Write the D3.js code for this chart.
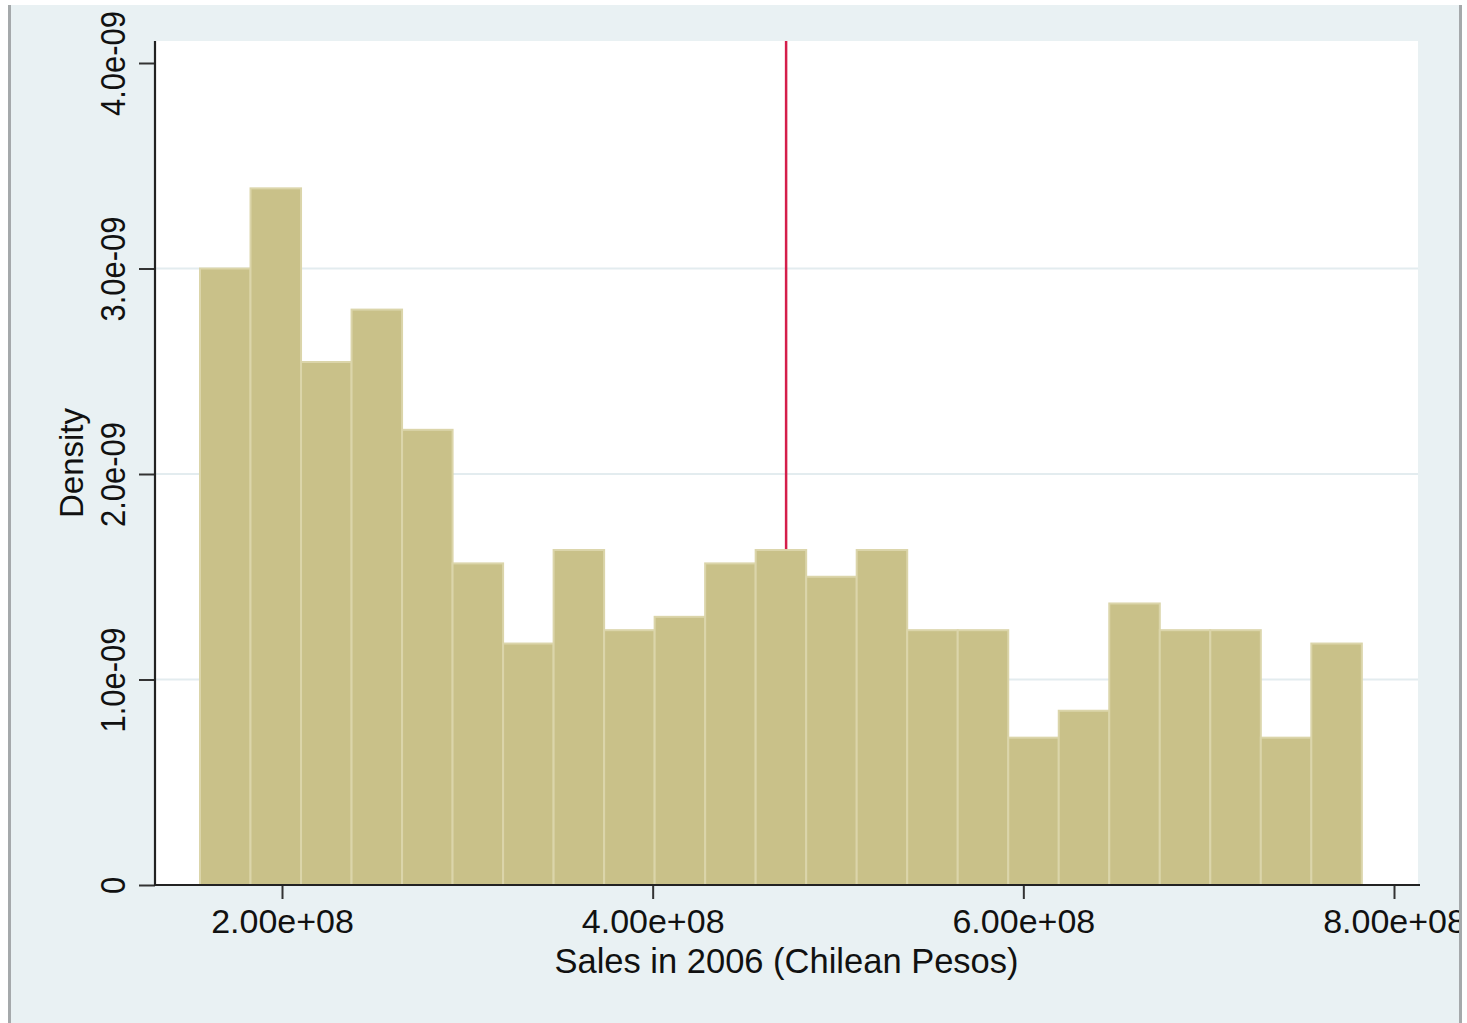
<!DOCTYPE html>
<html>
<head>
<meta charset="utf-8">
<title>Sales in 2006 histogram</title>
<script src="https://cdn.jsdelivr.net/npm/d3@7"></script>
<style>
  html, body { margin: 0; padding: 0; background: #ffffff; }
  svg { display: block; }
  text { font-family: "Liberation Sans", Arial, Helvetica, sans-serif; fill: #111; }
</style>
</head>
<body>
<svg id="chart" width="1467" height="1023"></svg>
<script>
// Histogram of firm sales (23 equal-width bins), density scale
const binStart = 1.5576e8;
const binWidth = 2.7256e7;
const densities = [
  3.00e-9, 3.39e-9, 2.545e-9, 2.80e-9, 2.215e-9, 1.565e-9, 1.175e-9, 1.63e-9,
  1.24e-9, 1.305e-9, 1.565e-9, 1.63e-9, 1.50e-9, 1.63e-9, 1.24e-9, 1.24e-9,
  0.717e-9, 0.848e-9, 1.37e-9, 1.24e-9, 1.24e-9, 0.717e-9, 1.175e-9
];
// Mean sales marker
const meanSales = 4.72e8;
const xTicks = [2e8, 4e8, 6e8, 8e8];
const yTicks = [0, 1e-9, 2e-9, 3e-9, 4e-9];
const yGrid = [1e-9, 2e-9, 3e-9];
const xTitle = "Sales in 2006 (Chilean Pesos)";
const yTitle = "Density";

const svg = d3.select("#chart");

// plot region bounds
const plot = { left: 155, right: 1418, top: 41, bottom: 885 };

const x = d3.scaleLinear().domain([2e8, 8e8]).range([282, 1394]);
const y = d3.scaleLinear().domain([0, 4e-9]).range([885, 63]);

// Stata-style number formats: 2.00e+08 / 4.0e-09
function sci(v, digits) {
  if (v === 0) return "0";
  const s = v.toExponential(digits);
  const [m, e] = s.split("e");
  const sign = e[0];
  const ex = e.slice(1).padStart(2, "0");
  return m + "e" + sign + ex;
}

// everything inside the graph frame is clipped at its edges
svg.append("defs").append("clipPath").attr("id", "frame")
  .append("rect").attr("x", 9).attr("y", 5).attr("width", 1451).attr("height", 1030);

const frame = svg.append("g").attr("clip-path", "url(#frame)");

// outer graph region
frame.append("rect")
  .attr("x", 9).attr("y", 5).attr("width", 1452).attr("height", 1030)
  .attr("fill", "#e9f1f3");

// plot region
frame.append("rect")
  .attr("x", plot.left).attr("y", plot.top)
  .attr("width", plot.right - plot.left).attr("height", plot.bottom - plot.top)
  .attr("fill", "#ffffff");

// horizontal gridlines
frame.append("g").selectAll("line").data(yGrid).join("line")
  .attr("x1", plot.left).attr("x2", plot.right)
  .attr("y1", d => y(d)).attr("y2", d => y(d))
  .attr("stroke", "#e3ecef").attr("stroke-width", 2);

// mean line (drawn beneath the bars)
frame.append("line")
  .attr("x1", x(meanSales)).attr("x2", x(meanSales))
  .attr("y1", plot.top).attr("y2", plot.bottom)
  .attr("stroke", "#d41e4b").attr("stroke-width", 2.5);

// bars
frame.append("g").selectAll("rect").data(densities).join("rect")
  .attr("x", (d, i) => x(binStart + i * binWidth))
  .attr("width", (d, i) => x(binStart + (i + 1) * binWidth) - x(binStart + i * binWidth))
  .attr("y", d => y(d))
  .attr("height", d => y(0) - y(d))
  .attr("fill", "#c9c189")
  .attr("stroke", "#dbd5aa")
  .attr("stroke-width", 2);

// x axis
const xAxis = d3.axisBottom(x).tickValues(xTicks).tickSize(14).tickSizeOuter(0)
  .tickFormat(d => sci(d, 2));
const gx = frame.append("g").attr("transform", `translate(0,${plot.bottom})`).call(xAxis);
gx.select(".domain").remove();
gx.append("line")
  .attr("x1", plot.left).attr("x2", plot.right + 2)
  .attr("stroke", "#222").attr("stroke-width", 2.2);
gx.selectAll(".tick line").attr("stroke", "#333").attr("stroke-width", 2);
gx.selectAll(".tick text")
  .attr("y", 48).attr("dy", 0)
  .style("font-size", "34px").attr("fill", "#111")
  .attr("font-family", "Liberation Sans, Arial, sans-serif");

// y axis
const yAxis = d3.axisLeft(y).tickValues(yTicks).tickSize(16).tickSizeOuter(0)
  .tickFormat(d => sci(d, 1));
const gy = frame.append("g").attr("transform", `translate(${plot.left},0)`).call(yAxis);
gy.select(".domain").remove();
gy.append("line")
  .attr("y1", plot.top).attr("y2", plot.bottom + 1)
  .attr("stroke", "#222").attr("stroke-width", 2.2);
gy.selectAll(".tick line").attr("stroke", "#333").attr("stroke-width", 2);
gy.selectAll(".tick text")
  .attr("x", null).attr("dy", null)
  .attr("text-anchor", "middle")
  .attr("transform", "translate(-30,0) rotate(-90) scale(1,1.12)")
  .attr("y", 0)
  .style("font-size", "31px").attr("fill", "#111")
  .attr("font-family", "Liberation Sans, Arial, sans-serif");

// axis titles
frame.append("text")
  .attr("x", (plot.left + plot.right) / 2).attr("y", 973)
  .attr("text-anchor", "middle")
  .style("font-size", "34.5px")
  .text(xTitle);
frame.append("text")
  .attr("transform", `translate(83,${(plot.top + plot.bottom) / 2}) rotate(-90)`)
  .attr("text-anchor", "middle")
  .style("font-size", "33px")
  .text(yTitle);

// frame edges
svg.append("line")
  .attr("x1", 9.5).attr("x2", 9.5).attr("y1", 5).attr("y2", 1023)
  .attr("stroke", "#a5a9ab").attr("stroke-width", 3);
svg.append("line")
  .attr("x1", 1460.5).attr("x2", 1460.5).attr("y1", 5).attr("y2", 1023)
  .attr("stroke", "#a5a9ab").attr("stroke-width", 3);
</script>
</body>
</html>
